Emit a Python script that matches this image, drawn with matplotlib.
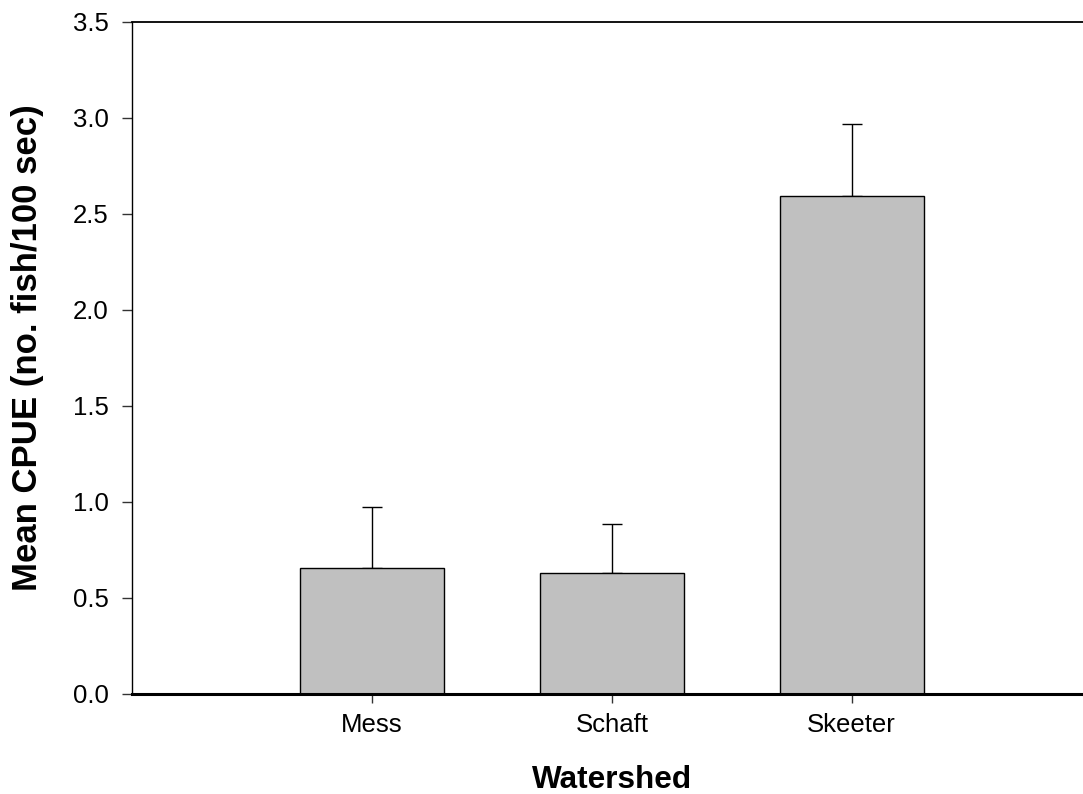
import matplotlib
matplotlib.use("Agg")
import matplotlib.pyplot as plt

plt.rcParams["font.family"] = ["Liberation Sans", "DejaVu Sans"]

watersheds = ["Mess", "Schaft", "Skeeter"]
mean_cpue = [0.653, 0.628, 2.594]
se_upper = [0.320, 0.257, 0.372]

positions = [1, 2, 3]

fig = plt.figure(figsize=(10.83, 7.94), dpi=100)
ax = fig.add_axes([0.1222, 0.1263, 0.8778, 0.8466])

ax.bar(positions, mean_cpue, width=0.6, color="#c0c0c0",
       edgecolor="black", linewidth=1.0, zorder=3)
# upper error bars only
ax.errorbar(positions, mean_cpue, yerr=[[0] * 3, se_upper], fmt="none",
            ecolor="black", elinewidth=1.0, capsize=7.2, capthick=1.0,
            zorder=2)

ax.set_xlim(0, 3.965)
ax.set_ylim(0, 3.5)
ax.set_yticks([0.0, 0.5, 1.0, 1.5, 2.0, 2.5, 3.0, 3.5])
ax.set_yticklabels(["0.0", "0.5", "1.0", "1.5", "2.0", "2.5", "3.0", "3.5"])
ax.set_xticks(positions)
ax.set_xticklabels(watersheds)

ax.tick_params(axis="both", direction="out", labelsize=18.5, width=1.0,
               color="#333333")
ax.tick_params(axis="y", length=6.9, pad=10)
ax.tick_params(axis="x", length=6.5, pad=7.5)

ax.spines["right"].set_visible(False)
ax.spines["left"].set_linewidth(1.0)
ax.spines["top"].set_linewidth(1.3)
ax.spines["bottom"].set_linewidth(2.2)
ax.spines["bottom"].set_zorder(4)

ax.set_xlabel("Watershed", fontsize=22.7, fontweight="bold")
ax.set_ylabel("Mean CPUE (no. fish/100 sec)", fontsize=25,
              fontweight="bold")
ax.xaxis.set_label_coords(0.5046, -0.106)
ax.yaxis.set_label_coords(-0.093, 0.515)

fig.savefig("out.png", dpi=100)
